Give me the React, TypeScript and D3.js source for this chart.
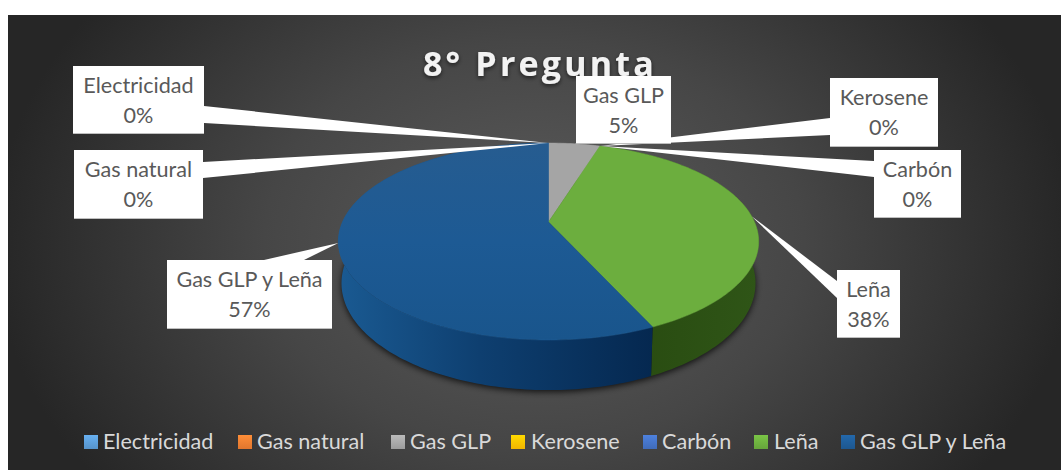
import React from "react";
import * as d3 from "d3";

const categories = ["Electricidad", "Gas natural", "Gas GLP", "Kerosene", "Carbón", "Leña", "Gas GLP y Leña"];
const shares = [0, 0, 4.8, 0, 0, 38.4, 56.8];
const percentLabels = ["0%", "0%", "5%", "0%", "0%", "38%", "57%"];
const colours = ["#5b9bd5", "#ed7d31", "#a5a5a5", "#ffc000", "#4472c4", "#6cae3e", "#1f5c97"];
const wallColours = ["#3a6b95", "#a5571f", "#6e6e6e", "#b38600", "#2f5089", "#2c5216", "#0c3766"];
const chartTitle = "8° Pregunta";

// label boxes: x0, y0, x1, y1, leader base points
const boxes = [
  { x0: 73, y0: 66, x1: 204, y1: 134, base: [[204, 106], [204, 123]] },
  { x0: 74, y0: 150, x1: 203, y1: 219, base: [[203, 162], [203, 178]] },
  { x0: 576, y0: 76, x1: 671, y1: 144, base: [[585, 142], [640, 142]] },
  { x0: 830, y0: 78, x1: 938, y1: 147, base: [[830, 118], [830, 135]] },
  { x0: 874, y0: 150, x1: 961, y1: 218, base: [[874, 161], [874, 177]] },
  { x0: 837, y0: 270, x1: 900, y1: 338, base: [[837, 281], [837, 298]] },
  { x0: 167, y0: 260, x1: 332, y1: 329, base: [[264, 260], [304, 260]] },
];
const legendSwatchX = [84, 238, 391, 511, 643, 754, 841];
const legendTextX = [103, 257, 410, 531, 662, 774, 860];

const cx = 548.5, apexY = 222, k = 0.198, A = 206, B = 94.6;
const botScaleX = 0.985, botScaleY = 1.086, botApexY = 262;

const pt = (a: number, bottom = false): [number, number] => {
  const u = Math.sin(a), v = -Math.cos(a), w = 1 - k * v;
  const X = (A * u) / w, Y = (B * v) / w;
  return bottom ? [cx + X * botScaleX, botApexY + Y * botScaleY] : [cx + X, apexY + Y];
};
const samples = (a0: number, a1: number) => {
  const n = Math.max(2, Math.ceil((a1 - a0) / 0.02));
  return d3.range(n + 1).map((i) => a0 + ((a1 - a0) * i) / n);
};
const line = d3.line<[number, number]>();

const arcs = d3.pie<number>().sort(null).value((d) => d)(shares);
const font = "Lato, 'Open Sans', sans-serif";

export default function App() {
  const allAngles = samples(0, 2 * Math.PI);
  return (
    <svg width={1061} height={470} style={{ position: "absolute", left: 0, top: 0, display: "block" }}>
      <defs>
        <radialGradient id="bg" gradientUnits="userSpaceOnUse" cx={534} cy={243} r={540} gradientTransform="translate(534 243) scale(1 0.75) translate(-534 -243)">
          <stop offset="0" stopColor="#5c5c5c" />
          <stop offset="0.5" stopColor="#464646" />
          <stop offset="1" stopColor="#262626" />
        </radialGradient>
        <linearGradient id="blueWall" x1="0" x2="1" y1="0" y2="0">
          <stop offset="0" stopColor="#1a5a92" />
          <stop offset="0.45" stopColor="#0e3f70" />
          <stop offset="1" stopColor="#052850" />
        </linearGradient>
        <linearGradient id="greenWall" x1="0" x2="1" y1="0" y2="0">
          <stop offset="0" stopColor="#27490f" />
          <stop offset="1" stopColor="#2f5517" />
        </linearGradient>
        <linearGradient id="blueTop" x1="0" x2="0" y1="0" y2="1">
          <stop offset="0" stopColor="#265c90" />
          <stop offset="0.5" stopColor="#1d5a94" />
          <stop offset="1" stopColor="#19558c" />
        </linearGradient>
        <filter id="blur" x="-10%" y="-10%" width="120%" height="120%">
          <feGaussianBlur stdDeviation="3" />
        </filter>
        <filter id="titleShadow" x="-10%" y="-30%" width="120%" height="170%">
          <feDropShadow dx="0" dy="2" stdDeviation="2" floodColor="#000" floodOpacity="0.6" />
        </filter>
        {colours.map((c, i) => (
          <linearGradient key={i} id={`sw${i}`} x1="0" x2="0" y1="0" y2="1">
            <stop offset="0" stopColor={d3.rgb(c).brighter(0.35).formatHex()} />
            <stop offset="1" stopColor={d3.rgb(c).darker(0.15).formatHex()} />
          </linearGradient>
        ))}
      </defs>

      <rect x={8} y={15} width={1053} height={455} fill="url(#bg)" />

      <text x={540} y={76} textAnchor="middle" fontFamily="'Open Sans', sans-serif" fontWeight={700} fontSize={34} letterSpacing={3.2} fill="#f2f2f2" filter="url(#titleShadow)">
        {chartTitle}
      </text>

      {/* shadow below the pie */}
      <path
        d={line(allAngles.map((a) => { const p = pt(a, true); return [p[0], p[1] + 2] as [number, number]; })) + "Z"}
        fill="#000"
        opacity={0.75}
        filter="url(#blur)"
      />

      {/* side walls */}
      {arcs.map((arc, i) => {
        if (arc.endAngle - arc.startAngle <= 0) return null;
        const as = samples(arc.startAngle, arc.endAngle);
        const d = line([...as.map((a) => pt(a)), ...as.slice().reverse().map((a) => pt(a, true))]) + "Z";
        const fill = i === 6 ? "url(#blueWall)" : i === 5 ? "url(#greenWall)" : wallColours[i];
        return <path key={i} d={d} fill={fill} />;
      })}

      {/* top faces */}
      {arcs.map((arc, i) => {
        if (arc.endAngle - arc.startAngle <= 0) return null;
        const as = samples(arc.startAngle, arc.endAngle);
        const d = line([[cx, apexY], ...as.map((a) => pt(a))]) + "Z";
        const fill = i === 6 ? "url(#blueTop)" : colours[i];
        return <path key={i} d={d} fill={fill} stroke={fill === colours[i] ? colours[i] : "#1f5c97"} strokeWidth={0.5} />;
      })}

      {/* leaders */}
      {arcs.map((arc, i) => {
        const tip = pt((arc.startAngle + arc.endAngle) / 2);
        const b = boxes[i].base as [number, number][];
        return <path key={i} d={line([tip, b[0], b[1]]) + "Z"} fill="#ffffff" />;
      })}

      {/* label boxes */}
      {categories.map((c, i) => {
        const b = boxes[i];
        const mid = (b.x0 + b.x1) / 2;
        return (
          <g key={c}>
            <rect x={b.x0} y={b.y0} width={b.x1 - b.x0} height={b.y1 - b.y0} fill="#ffffff" />
            <rect x={b.x0} y={b.y1 - 1} width={b.x1 - b.x0} height={1} fill="#bfbfbf" />
            <text x={mid} y={b.y0 + 27} textAnchor="middle" fontFamily={font} fontSize={21.6} fill="#595959">{c}</text>
            <text x={mid} y={b.y0 + 57} textAnchor="middle" fontFamily={font} fontSize={21.6} fill="#595959">{percentLabels[i]}</text>
          </g>
        );
      })}

      {/* legend */}
      {categories.map((c, i) => (
        <g key={c}>
          <rect x={legendSwatchX[i]} y={435} width={14} height={14} fill={`url(#sw${i})`} />
          <text x={legendTextX[i]} y={449} fontFamily={font} fontSize={21.6} fill="#d9d9d9">{c}</text>
        </g>
      ))}
    </svg>
  );
}
